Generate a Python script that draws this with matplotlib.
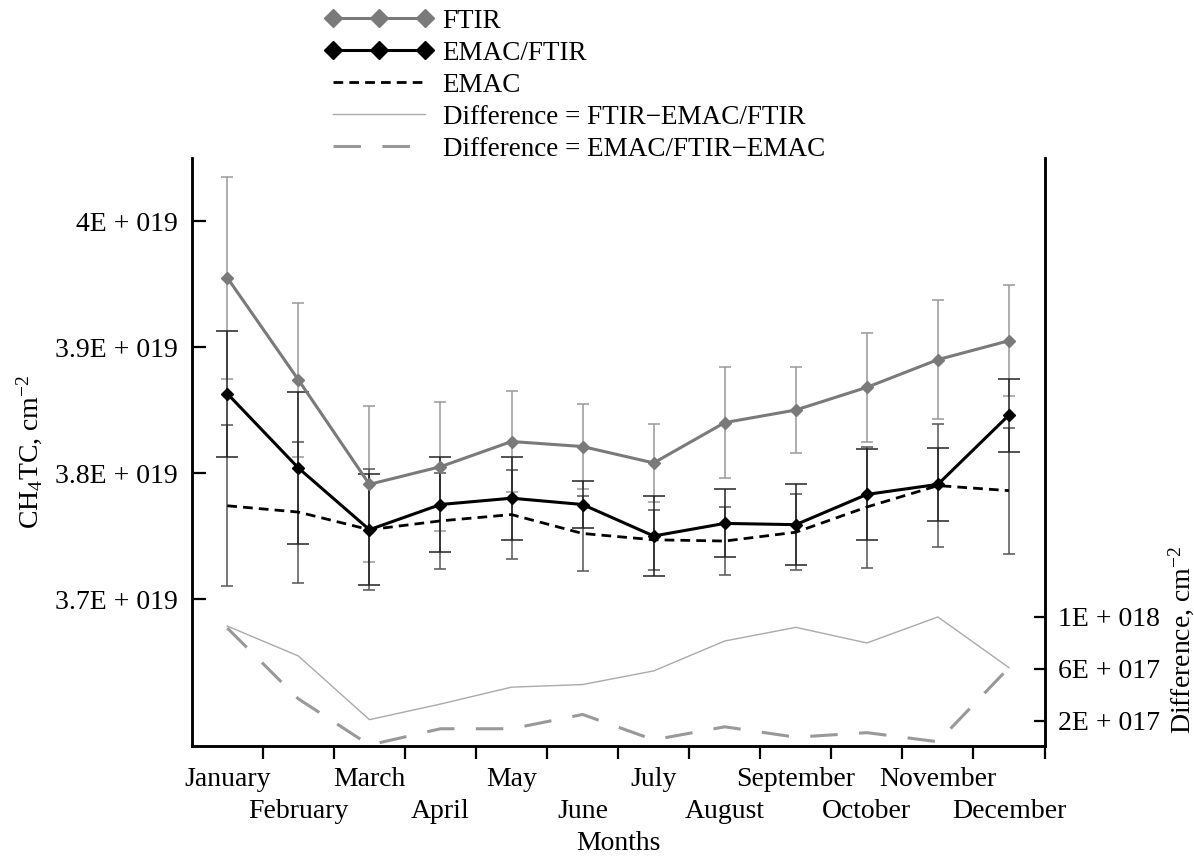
import numpy as np
import matplotlib
matplotlib.use("Agg")
import matplotlib.pyplot as plt

plt.rcParams['font.family'] = ['Liberation Serif', 'DejaVu Serif']
plt.rcParams['mathtext.fontset'] = 'custom'
plt.rcParams['mathtext.rm'] = 'Liberation Serif'
plt.rcParams['mathtext.it'] = 'Liberation Serif:italic'

months = ['January', 'February', 'March', 'April', 'May', 'June',
          'July', 'August', 'September', 'October', 'November', 'December']

# total column, units of 1E+019 cm-2
ftir = [3.955, 3.874, 3.791, 3.805, 3.825, 3.821, 3.808, 3.840, 3.850, 3.868, 3.890, 3.905]
ftir_err = [0.080, 0.061, 0.062, 0.051, 0.040, 0.034, 0.031, 0.044, 0.034, 0.043, 0.047, 0.044]
emac_ftir = [3.863, 3.804, 3.755, 3.775, 3.780, 3.775, 3.750, 3.760, 3.759, 3.783, 3.791, 3.846]
emac_ftir_err = [0.050, 0.060, 0.044, 0.038, 0.033, 0.019, 0.032, 0.027, 0.032, 0.036, 0.029, 0.029]
emac = [3.774, 3.769, 3.755, 3.762, 3.767, 3.752, 3.747, 3.746, 3.753, 3.773, 3.790, 3.786]
emac_err = [0.064, 0.056, 0.048, 0.038, 0.035, 0.030, 0.024, 0.027, 0.030, 0.048, 0.049, 0.050]

# differences, units of 1E+017 cm-2
diff_ftir = [9.3, 7.0, 2.1, 3.3, 4.6, 4.8, 5.85, 8.15, 9.2, 8.0, 10.0, 6.1]
diff_emac = [9.15, 3.7, 0.15, 1.4, 1.4, 2.5, 0.55, 1.55, 0.75, 1.1, 0.4, 6.1]

left_ticks = [3.7, 3.8, 3.9, 4.0]
left_labels = ['3.7E + 019', '3.8E + 019', '3.9E + 019', '4E + 019']
right_ticks = [2, 6, 10]
right_labels = ['2E + 017', '6E + 017', '1E + 018']

x = np.arange(len(months))
s1 = 1e19
s2 = 1e17

fig = plt.figure(figsize=(11.94, 8.56), dpi=100)
ax = fig.add_axes([0.1606, 0.1289, 0.7142, 0.6865])
ax2 = ax.twinx()

fs = 20

# error bars
ax.errorbar(x, np.array(ftir) * s1, yerr=np.array(ftir_err) * s1, fmt='none',
            ecolor='#999999', elinewidth=1.1, capsize=4, capthick=1.1, zorder=2)
ax.errorbar(x, np.array(emac) * s1, yerr=np.array(emac_err) * s1, fmt='none',
            ecolor='#555555', elinewidth=1.1, capsize=4, capthick=1.1, zorder=2)
ax.errorbar(x, np.array(emac_ftir) * s1, yerr=np.array(emac_ftir_err) * s1, fmt='none',
            ecolor='#222222', elinewidth=1.1, capsize=8, capthick=1.1, zorder=2)

l1, = ax.plot(x, np.array(ftir) * s1, color='#7a7a7a', lw=2.2, marker='D', ms=6.5,
              label='FTIR', zorder=4)
l2, = ax.plot(x, np.array(emac_ftir) * s1, color='black', lw=2.2, marker='D', ms=6.5,
              label='EMAC/FTIR', zorder=5)
l3, = ax.plot(x, np.array(emac) * s1, color='black', lw=2.0, ls=(0, (3.5, 2.2)),
              label='EMAC', zorder=3)

l4, = ax2.plot(x, np.array(diff_ftir) * s2, color='#aaaaaa', lw=1.0,
               label='Difference = FTIR\u2212EMAC/FTIR')
l5, = ax2.plot(x, np.array(diff_emac) * s2, color='#999999', lw=2.2, ls=(0, (9, 7)),
               label='Difference = EMAC/FTIR\u2212EMAC')

ax.set_xlim(-0.5, 11.5)
ax.set_ylim(3.5836 * s1, 4.05 * s1)
ax2.set_ylim(0.1 * s2, 45.3 * s2)

# x axis: ticks on month boundaries, month names in two staggered rows
ax.set_xticks(np.arange(0.5, 12, 1))
ax.set_xticklabels([])
ax.tick_params(axis='x', which='major', direction='out', length=9, width=1.6)
for i, m in enumerate(months):
    off = -24.5 if i % 2 == 0 else -47.5
    ax.annotate(m, xy=(x[i], 0), xycoords=ax.get_xaxis_transform(),
                xytext=(0, off), textcoords='offset points',
                ha='center', va='center', fontsize=fs)
ax.set_xlabel('Months', fontsize=fs)
ax.xaxis.set_label_coords(0.5, -0.145)

ax.set_yticks(np.array(left_ticks) * s1)
ax.set_yticklabels(left_labels, fontsize=fs)
ax.tick_params(axis='y', direction='in', length=10, width=1.6, pad=10)
ax.set_ylabel(r'CH$_4$TC, cm$^{-2}$', fontsize=fs, labelpad=8)

ax2.set_yticks(np.array(right_ticks) * s2)
ax2.set_yticklabels(right_labels, fontsize=fs)
ax2.tick_params(axis='y', direction='in', length=8, width=1.6, pad=10)
ax2.set_ylabel(r'Difference, cm$^{-2}$', fontsize=fs)
ax2.yaxis.set_label_coords(1.143, 0.18)

for a in (ax, ax2):
    for sp in a.spines.values():
        sp.set_linewidth(1.8)
ax2.spines['top'].set_visible(False)
ax.spines['top'].set_visible(False)

fig.legend(handles=[l1, l2, l3, l4, l5], loc='upper left',
           bbox_to_anchor=(0.272, 0.99), frameon=False, fontsize=19.5,
           numpoints=3, handlelength=4.0, handletextpad=0.35,
           labelspacing=0.26, borderpad=0, borderaxespad=0,
           markerscale=1.35)

fig.savefig('out.png', dpi=100)
